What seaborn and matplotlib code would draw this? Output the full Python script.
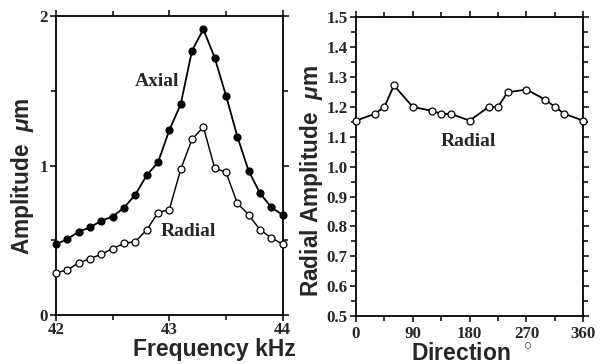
import numpy as np
import pandas as pd
import matplotlib
matplotlib.use("Agg")
import matplotlib.pyplot as plt
from matplotlib.ticker import MultipleLocator, FixedLocator
import seaborn as sns

# ---- data ----
freq_khz = [42.0, 42.1, 42.2, 42.3, 42.4, 42.5, 42.6, 42.7, 42.8, 42.9, 43.0,
            43.1, 43.2, 43.3, 43.4, 43.5, 43.6, 43.7, 43.8, 43.9, 44.0]
axial_amp = [0.473, 0.508, 0.557, 0.586, 0.631, 0.658, 0.718, 0.805, 0.934, 1.021, 1.237,
             1.409, 1.768, 1.911, 1.721, 1.467, 1.193, 0.963, 0.814, 0.720, 0.669]
radial_amp = [0.283, 0.301, 0.348, 0.377, 0.406, 0.444, 0.479, 0.491, 0.569, 0.685, 0.705,
              0.974, 1.175, 1.258, 0.983, 0.954, 0.747, 0.671, 0.569, 0.517, 0.473]

direction_deg = [0, 30, 45, 60, 90, 120, 135, 150, 180, 210, 225, 240, 270, 300, 315, 330, 360]
radial_dir_amp = [1.154, 1.177, 1.200, 1.272, 1.200, 1.187, 1.177, 1.177, 1.154,
                  1.200, 1.200, 1.249, 1.258, 1.224, 1.200, 1.177, 1.154]

left_xticks = [42, 43, 44]
left_yticks = [0, 1, 2]
right_xticks = [0, 90, 180, 270, 360]
right_yticks = [0.5, 0.6, 0.7, 0.8, 0.9, 1.0, 1.1, 1.2, 1.3, 1.4, 1.5]

# ---- style ----
sns.set_style("ticks")
plt.rcParams["mathtext.fontset"] = "custom"
plt.rcParams["mathtext.rm"] = "Liberation Sans:bold"
plt.rcParams["mathtext.it"] = "Liberation Sans:italic:bold"
plt.rcParams["mathtext.bf"] = "Liberation Sans:bold"

fig = plt.figure(figsize=(6.05, 3.64), dpi=100)
ax1 = fig.add_axes([56 / 605, 49 / 364, 226.7 / 605, 299 / 364])
ax2 = fig.add_axes([356 / 605, 48 / 364, 227.3 / 605, 298.7 / 364])

df_f = pd.DataFrame({"f": freq_khz, "axial": axial_amp, "radial": radial_amp})
df_d = pd.DataFrame({"d": direction_deg, "r": radial_dir_amp})

lw = 1.3
ms = 5.0
common = dict(color="black", marker="o", markersize=ms, markeredgecolor="black",
              markeredgewidth=0.9, zorder=3, clip_on=False)
sns.lineplot(data=df_f, x="f", y="axial", ax=ax1, lw=lw, markerfacecolor="black", **common)
sns.lineplot(data=df_f, x="f", y="radial", ax=ax1, lw=lw * 0.8, markerfacecolor="white", **common)
sns.lineplot(data=df_d, x="d", y="r", ax=ax2, lw=lw, markerfacecolor="white", **common)

tick_font = {"family": "Liberation Serif", "weight": "bold", "size": 12.2}
xlabel_font = {"family": "Liberation Sans", "weight": "bold", "size": 16.5}
ylabel_font = {"family": "Liberation Sans", "weight": "bold", "size": 16.3}
ann_font = {"family": "Liberation Serif", "weight": "bold", "size": 14}

for ax in (ax1, ax2):
    for s in ax.spines.values():
        s.set_linewidth(1.3)
        s.set_color("black")
    ax.tick_params(which="both", direction="out", top=True, right=True,
                   color="black", width=1.1, pad=2)
    ax.tick_params(which="major", length=4)
    ax.tick_params(which="minor", length=3.5)
ax1.tick_params(axis="x", which="both", pad=1)
ax2.tick_params(axis="x", which="both", pad=3)

ax1.set_xlim(42, 44)
ax1.set_ylim(0, 2)
ax1.xaxis.set_major_locator(FixedLocator(left_xticks))
ax1.yaxis.set_major_locator(FixedLocator(left_yticks))
ax1.xaxis.set_minor_locator(MultipleLocator(0.5))
ax1.yaxis.set_minor_locator(MultipleLocator(0.5))
ax1.set_xticklabels([str(v) for v in left_xticks], fontdict=tick_font)
ax1.set_yticklabels([str(v) for v in left_yticks], fontdict=tick_font)
ax1.set_xlabel("Frequency kHz", fontdict=xlabel_font)
ax1.set_ylabel(r"Amplitude  $\mu$m", fontdict=ylabel_font)
ax1.xaxis.set_label_coords(0.70, -0.077)
ax1.yaxis.set_label_coords(-0.087, 0.465)
ax1.text(42.896, 1.561, "Axial", ha="center", va="center", fontdict=ann_font)
ax1.text(43.17, 0.557, "Radial", ha="center", va="center", fontdict=ann_font)

ax2.set_xlim(0, 360)
ax2.set_ylim(0.5, 1.5)
ax2.xaxis.set_major_locator(FixedLocator(right_xticks))
ax2.yaxis.set_major_locator(FixedLocator(right_yticks))
ax2.xaxis.set_minor_locator(MultipleLocator(45))
ax2.yaxis.set_minor_locator(MultipleLocator(0.05))
ax2.set_xticklabels([str(v) for v in right_xticks], fontdict=tick_font)
ax2.set_yticklabels([f"{v:.1f}" for v in right_yticks], fontdict=tick_font)
ax2.set_xlabel(r"Direction  $^{\circ}$", fontdict=xlabel_font)
ax2.set_ylabel(r"Radial Amplitude  $\mu$m", fontdict=ylabel_font)
ax2.xaxis.set_label_coords(0.51, -0.086)
ax2.yaxis.set_label_coords(-0.135, 0.452)
ax2.text(177.9, 1.0835, "Radial", ha="center", va="center", fontdict=ann_font)

fig.savefig("out.png", dpi=100)
